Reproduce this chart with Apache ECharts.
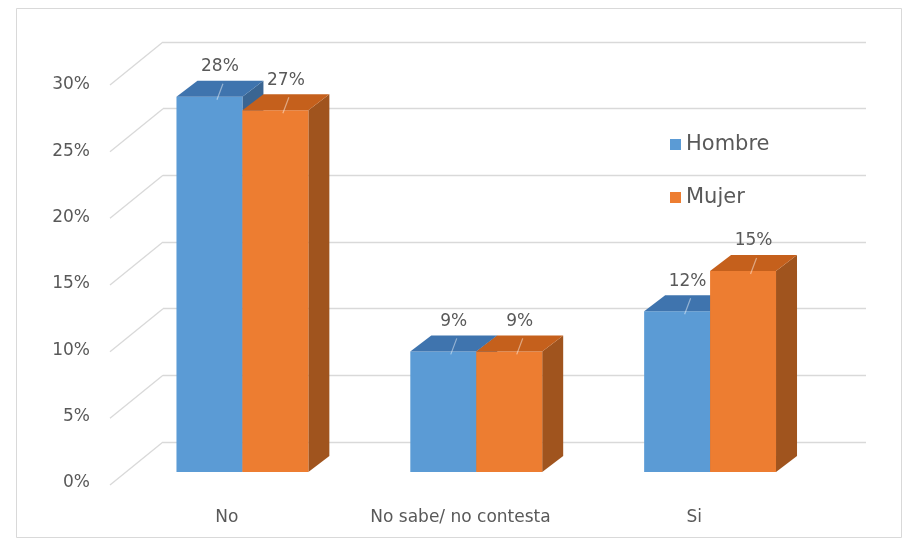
<!DOCTYPE html>
<html>
<head>
<meta charset="utf-8">
<script src="https://cdn.jsdelivr.net/npm/echarts@6/dist/echarts.min.js"></script>
<style>
  html, body { margin: 0; padding: 0; background: #ffffff; }
  #chart { width: 907px; height: 545px; }
</style>
</head>
<body>
<div id="chart"></div>
<script>
// Survey answers by gender (share of respondents)
const categories = ['No', 'No sabe/ no contesta', 'Si'];
const hombre = [0.28, 0.09, 0.12];
const mujer = [0.27, 0.09, 0.15];
const yTicks = [0, 0.05, 0.1, 0.15, 0.2, 0.25, 0.3];

const FONT = 'DejaVu Sans';
const TEXT = '#595959';
const GRID = '#d9d9d9';
// depth of the 3D extrusion, in pixels
const DX = 21, DY = -16;
// wall depth between label plane and back wall
const WALL_DX = 53, WALL_DY = 43;

const pct = v => Math.round(v * 100) + '%';

function barRenderer(side, front, topColor, sideColor) {
  return function (params, api) {
    const i = api.value(0), v = api.value(1);
    const base = api.coord([i, 0]);
    const top = api.coord([i, v]);
    const w = api.size([1, 0])[0] * 0.282;
    const x0 = side < 0 ? base[0] - w : base[0];
    const x1 = x0 + w;
    const yb = base[1], yt = top[1];
    const cx = x0 + w / 2 + DX / 2;
    return {
      type: 'group',
      children: [
        { type: 'polygon', shape: { points: [[x1, yt], [x1 + DX, yt + DY], [x1 + DX, yb + DY], [x1, yb]] },
          style: { fill: sideColor } },
        { type: 'rect', shape: { x: x0, y: yt, width: w, height: yb - yt },
          style: { fill: front } },
        { type: 'polygon', shape: { points: [[x0, yt], [x0 + DX, yt + DY], [x1 + DX, yt + DY], [x1, yt]] },
          style: { fill: topColor } },
        { type: 'line', shape: { x1: cx + 3, y1: yt + DY + 3, x2: cx - 3, y2: yt + 3 },
          style: { stroke: 'rgba(255,255,255,0.45)', lineWidth: 1.2 } },
        { type: 'text', style: { text: pct(v), x: cx, y: yt + DY - 14, align: 'center', verticalAlign: 'middle',
          fill: TEXT, fontSize: 17, fontFamily: FONT } }
      ]
    };
  };
}

const chart = echarts.init(document.getElementById('chart'), null, { renderer: 'canvas' });

chart.setOption({
  animation: false,
  backgroundColor: '#ffffff',
  graphic: [{
    type: 'rect', shape: { x: 16.5, y: 8.5, width: 885, height: 529 },
    style: { fill: 'none', stroke: GRID, lineWidth: 1 }, z: 0
  }],
  legend: {
    orient: 'vertical', left: 665, top: 129, itemGap: 32,
    icon: 'rect', itemWidth: 11, itemHeight: 11,
    data: ['Hombre', 'Mujer'],
    textStyle: { color: TEXT, fontSize: 21, fontFamily: FONT }
  },
  grid: [
    { left: 163, right: 41, top: 42, bottom: 103 },   // back wall
    { left: 110, right: 96, top: 85, bottom: 62 },    // front label plane
    { left: 125.5, right: 80, top: 70, bottom: 73 }   // bar plane
  ],
  xAxis: [
    { gridIndex: 0, type: 'value', min: 0, max: 1, show: false },
    { gridIndex: 1, type: 'category', data: categories,
      axisLine: { show: false }, axisTick: { show: false },
      axisLabel: { color: TEXT, fontSize: 17, fontFamily: FONT, margin: 26, interval: 0 } },
    { gridIndex: 2, type: 'category', data: categories, show: false }
  ],
  yAxis: [
    { gridIndex: 0, type: 'value', min: 0, max: 0.3, interval: 0.05,
      axisLine: { show: false }, axisTick: { show: false }, axisLabel: { show: false },
      splitLine: { lineStyle: { color: GRID, width: 1.3 } } },
    { gridIndex: 1, type: 'value', min: 0, max: 0.3, interval: 0.05,
      axisLine: { show: false }, axisTick: { show: false }, splitLine: { show: false },
      axisLabel: { color: TEXT, fontSize: 17, fontFamily: FONT, margin: 20, formatter: pct } },
    { gridIndex: 2, type: 'value', min: 0, max: 0.3, show: false }
  ],
  series: [
    {
      type: 'custom', name: 'wall', xAxisIndex: 0, yAxisIndex: 0, silent: true, z: 1,
      data: yTicks.map(v => [0, v]),
      renderItem: function (params, api) {
        const p = api.coord([0, api.value(1)]);
        return { type: 'line', shape: { x1: p[0], y1: p[1], x2: p[0] - WALL_DX, y2: p[1] + WALL_DY },
          style: { stroke: GRID, lineWidth: 1.3 } };
      }
    },
    {
      type: 'custom', name: 'Hombre', xAxisIndex: 2, yAxisIndex: 2, z: 3,
      itemStyle: { color: '#5B9BD5' },
      data: hombre.map((v, i) => [i, v]),
      renderItem: barRenderer(-1, '#5B9BD5', '#3F74AE', '#3A6592')
    },
    {
      type: 'custom', name: 'Mujer', xAxisIndex: 2, yAxisIndex: 2, z: 4,
      itemStyle: { color: '#ED7D31' },
      data: mujer.map((v, i) => [i, v]),
      renderItem: barRenderer(1, '#ED7D31', '#C5601C', '#A0541E')
    }
  ]
});
</script>
</body>
</html>
